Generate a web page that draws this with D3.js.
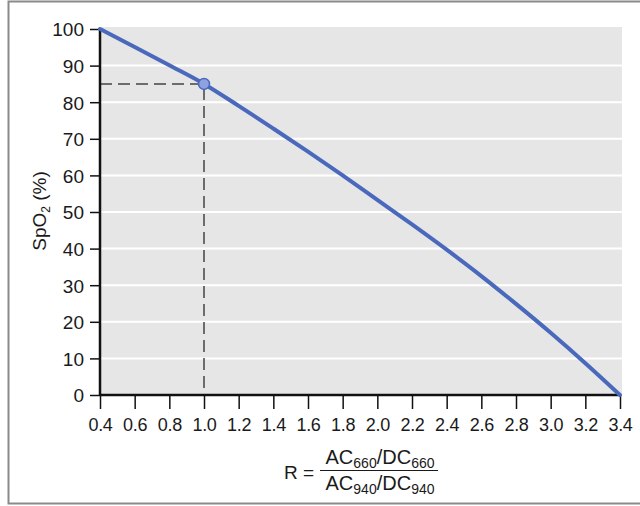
<!DOCTYPE html>
<html>
<head>
<meta charset="utf-8">
<script src="https://cdn.jsdelivr.net/npm/d3@7"></script>
<style>
  body { margin: 0; background: #fff; }
  text { font-family: "Liberation Sans", Arial, sans-serif; fill: #1a1a1a; }
</style>
</head>
<body>
<div id="container"></div>
<script>
/* CONSTANTS AND GLOBALS */
const width = 640;
const height = 506;
const plotLeft = 100, plotRight = 620, plotTop = 29, plotBottom = 395;

// data
const ratioR = [0.4, 0.6, 0.8, 1.0, 1.2, 1.4, 1.6, 1.8, 2.0, 2.2, 2.4, 2.6, 2.8, 3.0, 3.2, 3.4];
const spo2 = [100, 95.1, 90.1, 85, 79.0, 72.8, 66.5, 60.0, 53.3, 46.6, 39.7, 32.5, 24.9, 17.0, 8.7, 0];
const xTicks = [0.4, 0.6, 0.8, 1.0, 1.2, 1.4, 1.6, 1.8, 2.0, 2.2, 2.4, 2.6, 2.8, 3.0, 3.2, 3.4];
const yTicks = [0, 10, 20, 30, 40, 50, 60, 70, 80, 90, 100];
const markR = [1.0];
const markSpo2 = [85];

const data = ratioR.map((r, i) => ({ r: r, s: spo2[i] }));

/* SCALES */
const xScale = d3.scaleLinear().domain([0.4, 3.4]).range([plotLeft, plotRight]);
const yScale = d3.scaleLinear().domain([0, 100]).range([plotBottom, plotTop]);

/* HTML ELEMENTS */
const svg = d3.select("#container")
  .append("svg")
  .attr("width", width)
  .attr("height", height);

// outer frame
svg.append("rect")
  .attr("x", 8.5).attr("y", 1.5)
  .attr("width", 640).attr("height", 502)
  .attr("fill", "none")
  .attr("stroke", "#8a8a8a")
  .attr("stroke-width", 2);

// plot background
svg.append("rect")
  .attr("x", plotLeft).attr("y", plotTop - 2)
  .attr("width", plotRight - plotLeft + 2).attr("height", plotBottom - plotTop + 2)
  .attr("fill", "#e6e6e6");

// gridlines
svg.selectAll("line.grid")
  .data(yTicks.filter(d => d > 0 && d < 100))
  .join("line")
  .attr("class", "grid")
  .attr("x1", plotLeft).attr("x2", plotRight + 2)
  .attr("y1", d => yScale(d)).attr("y2", d => yScale(d))
  .attr("stroke", "#fff")
  .attr("stroke-width", 2);

// dashed guide lines
svg.append("path")
  .attr("d", `M${xScale(0.4)},${yScale(markSpo2[0])}H${xScale(markR[0])}V${yScale(0)}`)
  .attr("fill", "none")
  .attr("stroke", "#444")
  .attr("stroke-width", 1.5)
  .attr("stroke-dasharray", "12,6");

// axes
const yAxis = svg.append("g")
  .attr("transform", `translate(${plotLeft},0)`)
  .call(d3.axisLeft(yScale).tickValues(yTicks).tickSize(10).tickPadding(6).tickFormat(d3.format("d")));

const xAxis = svg.append("g")
  .attr("transform", `translate(0,${plotBottom})`)
  .call(d3.axisBottom(xScale).tickValues(xTicks).tickSize(14).tickPadding(9).tickFormat(d3.format(".1f")));

[yAxis, xAxis].forEach(g => {
  g.select(".domain").attr("stroke", "#111").attr("stroke-width", 2.5);
  g.selectAll(".tick line").attr("stroke", "#111").attr("stroke-width", 1.5);
  g.selectAll(".tick text")
    .style("font-family", "'Liberation Sans', Arial, sans-serif")
    .style("font-size", "18px")
    .attr("fill", "#1a1a1a");
});
yAxis.select(".domain").attr("d", `M0,${plotTop}V${plotBottom}`);
xAxis.select(".domain").attr("d", `M${plotLeft},0H${plotRight}`);
yAxis.selectAll(".tick text").attr("dy", "0.36em").style("font-size", "19px");
xAxis.selectAll(".tick text").style("letter-spacing", "-0.3px");

// curve
const line = d3.line()
  .x(d => xScale(d.r))
  .y(d => yScale(d.s))
  .curve(d3.curveMonotoneX);

svg.append("path")
  .datum(data)
  .attr("d", line)
  .attr("fill", "none")
  .attr("stroke", "#4a69bd")
  .attr("stroke-width", 4)
  .attr("stroke-linecap", "round");

// highlighted point
svg.selectAll("circle.mark")
  .data(markR)
  .join("circle")
  .attr("class", "mark")
  .attr("cx", d => xScale(d))
  .attr("cy", (d, i) => yScale(markSpo2[i]))
  .attr("r", 5.5)
  .attr("fill", "#8fa2e0")
  .attr("stroke", "#4a69bd")
  .attr("stroke-width", 1.5);

// y axis title
const yTitle = svg.append("text")
  .attr("transform", "translate(46,211) rotate(-90)")
  .attr("text-anchor", "middle")
  .style("font-size", "19px");
yTitle.append("tspan").text("SpO");
yTitle.append("tspan").attr("dy", 4).style("font-size", "12px").text("2");
yTitle.append("tspan").attr("dy", -4).text(" (%)");

// x axis title: R = fraction
svg.append("text")
  .attr("x", 284).attr("y", 479)
  .style("font-size", "19px")
  .text("R =");

function fracPart(y, num) {
  const t = svg.append("text")
    .attr("x", 380).attr("y", y)
    .attr("text-anchor", "middle")
    .style("font-size", "20px");
  t.append("tspan").text("AC");
  t.append("tspan").attr("dy", 4).style("font-size", "14px").text(num);
  t.append("tspan").attr("dy", -4).text("/DC");
  t.append("tspan").attr("dy", 4).style("font-size", "14px").text(num);
}
fracPart(464, "660");
fracPart(490, "940");

svg.append("line")
  .attr("x1", 320).attr("x2", 438)
  .attr("y1", 470.5).attr("y2", 470.5)
  .attr("stroke", "#1a1a1a")
  .attr("stroke-width", 1.2);
</script>
</body>
</html>
